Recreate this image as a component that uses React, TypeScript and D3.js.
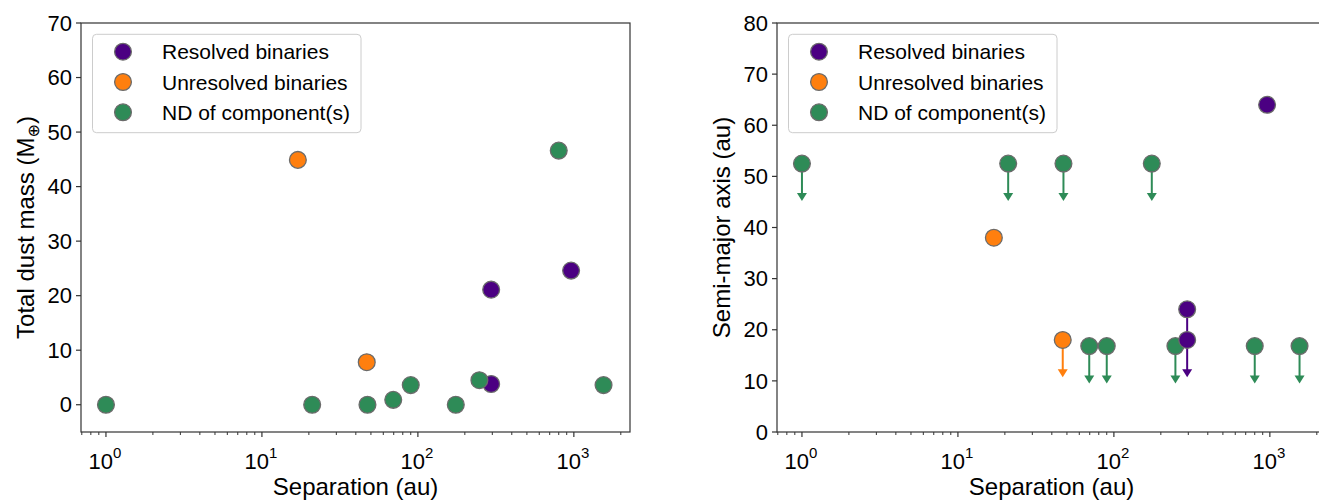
import React from "react";
import * as d3 from "d3";

// ---------- data ----------
const seriesNames = ["Resolved binaries", "Unresolved binaries", "ND of component(s)"];
const seriesColors = ["#4b0082", "#ff7f0e", "#2e8b57"];

// Resolved binaries
const resolvedSep = [295, 295, 960];
const resolvedMass = [21.1, 3.8, 24.6];
const resolvedSma = [24, 18, 64];
const resolvedSmaUpper = [true, true, false];

// Unresolved binaries
const unresolvedSep = [17, 47];
const unresolvedMass = [44.9, 7.8];
const unresolvedSma = [38, 18];
const unresolvedSmaUpper = [false, true];

// ND of component(s)
const ndSep = [1, 21, 47.5, 69.5, 90, 175, 248, 800, 1550];
const ndMass = [0, 0, 0, 0.9, 3.6, 0, 4.5, 46.6, 3.6];
const ndSma = [52.5, 52.5, 52.5, 16.8, 16.8, 52.5, 16.8, 16.8, 16.8];
const ndSmaUpper = [true, true, true, true, true, true, true, true, true];

const leftYTicks = [0, 10, 20, 30, 40, 50, 60, 70];
const rightYTicks = [0, 10, 20, 30, 40, 50, 60, 70, 80];
const xMajorExps = [0, 1, 2, 3];
const upperLimitLength = 7.3;

// ---------- layout ----------
const W = 1319;
const H = 503;
const FONT = "'Liberation Sans', Arial, 'DejaVu Sans', sans-serif";
const TOP = 23;
const BOTTOM = 432;
const X_DOMAIN: [number, number] = [Math.pow(10, -0.16), Math.pow(10, 3.36)];
const R = 8.4;

type Pt = { x: number; y: number; up: boolean; c: number };

function Panel(props: {
  left: number;
  right: number;
  yDomain: [number, number];
  yTicks: number[];
  yLabel: React.ReactNode;
  groups: Pt[][];
}) {
  const { left, right, yDomain, yTicks, yLabel, groups } = props;
  const x = d3.scaleLog().domain(X_DOMAIN).range([left, right]);
  const y = d3.scaleLinear().domain(yDomain).range([BOTTOM, TOP]);
  const minor: number[] = [];
  for (let e = -1; e <= 3; e++) {
    for (let m = 2; m <= 9; m++) {
      const v = m * Math.pow(10, e);
      if (v >= X_DOMAIN[0] && v <= X_DOMAIN[1]) minor.push(v);
    }
  }
  const frameColor = "#333";
  const cx = (left + right) / 2;
  const cy = (TOP + BOTTOM) / 2;
  return (
    <g>
      {/* arrows (upper limits) */}
      {groups.map((g, gi) =>
        g.map((p, i) => {
          if (!p.up) return null;
          const px = x(p.x);
          const py = y(p.y);
          const tip = y(p.y - upperLimitLength);
          const col = seriesColors[p.c];
          return (
            <g key={`a${gi}-${i}`}>
              <line x1={px} x2={px} y1={py} y2={tip - 6} stroke={col} strokeWidth={2} />
              <path d={`M${px - 5},${tip - 8} L${px + 5},${tip - 8} L${px},${tip} Z`} fill={col} />
            </g>
          );
        })
      )}
      {/* markers */}
      {groups.map((g, gi) =>
        g.map((p, i) => (
          <circle
            key={`m${gi}-${i}`}
            cx={x(p.x)}
            cy={y(p.y)}
            r={R}
            fill={seriesColors[p.c]}
            stroke="#6b6b6b"
            strokeWidth={1.3}
          />
        ))
      )}
      {/* frame */}
      <rect x={left} y={TOP} width={right - left} height={BOTTOM - TOP} fill="none" stroke={frameColor} strokeWidth={1.2} />
      {/* y ticks */}
      {yTicks.map((t) => (
        <g key={`yt${t}`}>
          <line x1={left - 5} x2={left} y1={y(t)} y2={y(t)} stroke={frameColor} strokeWidth={1.2} />
          <text x={left - 9} y={y(t)} dy="0.35em" textAnchor="end" fontSize={22} fontFamily={FONT} fill="#000">
            {t}
          </text>
        </g>
      ))}
      {/* x ticks */}
      {minor.map((v, i) => (
        <line key={`mn${i}`} x1={x(v)} x2={x(v)} y1={BOTTOM} y2={BOTTOM + 3} stroke={frameColor} strokeWidth={1} />
      ))}
      {xMajorExps.map((e) => {
        const v = Math.pow(10, e);
        return (
          <g key={`xt${e}`}>
            <line x1={x(v)} x2={x(v)} y1={BOTTOM} y2={BOTTOM + 5} stroke={frameColor} strokeWidth={1.2} />
            <text x={x(v) - 1} y={468.5} textAnchor="middle" fontSize={22} fontFamily={FONT} fill="#000">
              10
              <tspan dy={-11} fontSize={15}>
                {e}
              </tspan>
            </text>
          </g>
        );
      })}
      <text x={cx} y={495} textAnchor="middle" fontSize={24} fontFamily={FONT} fill="#000">
        Separation (au)
      </text>
      <text
        transform={`translate(${left - 47},${cy}) rotate(-90)`}
        textAnchor="middle"
        fontSize={24}
        fontFamily={FONT}
        fill="#000"
      >
        {yLabel}
      </text>
      {/* legend */}
      <g>
        <rect
          x={left + 11.5}
          y={34.3}
          width={268.5}
          height={98.4}
          rx={4}
          fill="#fff"
          fillOpacity={0.8}
          stroke="#cccccc"
          strokeWidth={1}
        />
        {seriesNames.map((n, i) => {
          const ly = 51.7 + i * 30.3;
          return (
            <g key={`lg${i}`}>
              <circle cx={left + 42} cy={ly} r={R} fill={seriesColors[i]} stroke="#6b6b6b" strokeWidth={1.3} />
              <text x={left + 81} y={ly} dy="0.36em" fontSize={21} fontFamily={FONT} fill="#000">
                {n}
              </text>
            </g>
          );
        })}
      </g>
    </g>
  );
}

function mk(xs: number[], ys: number[], ups: boolean[] | null, c: number): Pt[] {
  return xs.map((v, i) => ({ x: v, y: ys[i], up: ups ? ups[i] : false, c }));
}

export default function App() {
  const leftGroups = [
    mk(resolvedSep, resolvedMass, null, 0),
    mk(unresolvedSep, unresolvedMass, null, 1),
    mk(ndSep, ndMass, null, 2),
  ];
  const rightGroups = [
    mk(ndSep, ndSma, ndSmaUpper, 2),
    mk(unresolvedSep, unresolvedSma, unresolvedSmaUpper, 1),
    mk(resolvedSep, resolvedSma, resolvedSmaUpper, 0),
  ];
  return (
    <svg
      width={W}
      height={H}
      viewBox={`0 0 ${W} ${H}`}
      style={{ position: "absolute", left: 0, top: 0, background: "#fff" }}
    >
      <rect x={0} y={0} width={W} height={H} fill="#fff" />
      <Panel
        left={81}
        right={630}
        yDomain={[-5, 70]}
        yTicks={leftYTicks}
        yLabel={
          <>
            Total dust mass (M
            <tspan fontSize={16} dy={5}>⊕</tspan>
            <tspan dy={-5}>)</tspan>
          </>
        }
        groups={leftGroups}
      />
      <Panel
        left={777}
        right={1326}
        yDomain={[0, 80]}
        yTicks={rightYTicks}
        yLabel={"Semi-major axis (au)"}
        groups={rightGroups}
      />
    </svg>
  );
}
